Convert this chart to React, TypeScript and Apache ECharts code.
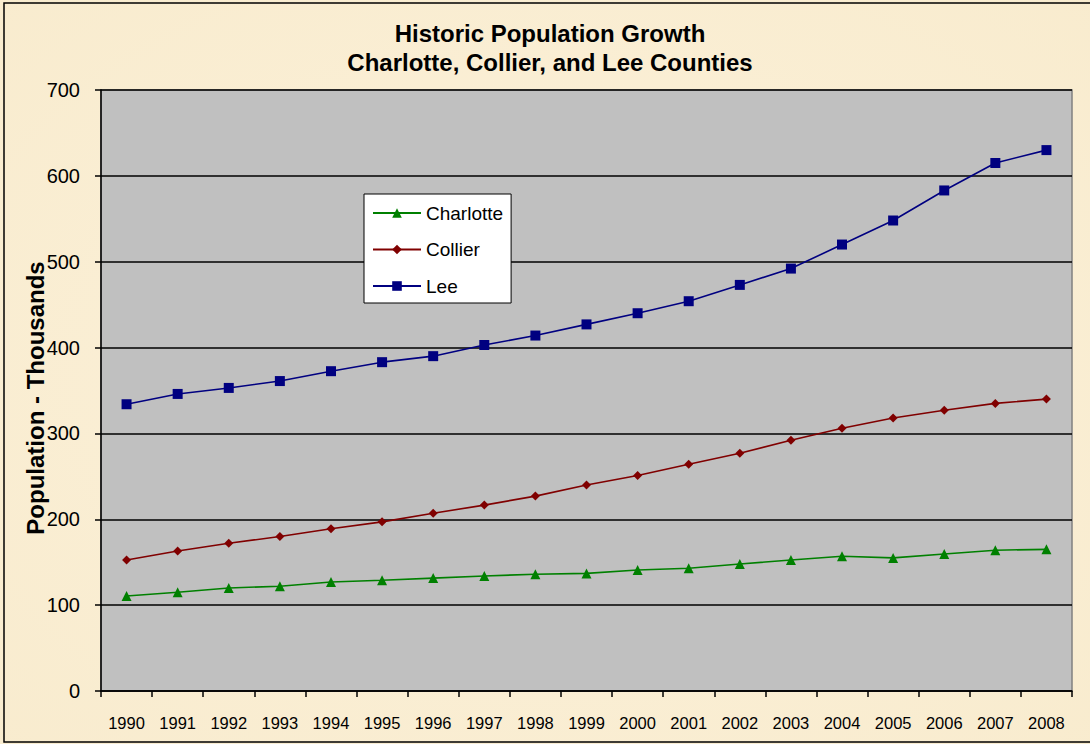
import React, { useEffect, useRef } from "react";
import * as echarts from "echarts";

const years = ["1990","1991","1992","1993","1994","1995","1996","1997","1998","1999","2000","2001","2002","2003","2004","2005","2006","2007","2008"];
const charlotte = [110.6,115,120,122,127,129,131.5,134,136,137,141,143,148,152.5,157,155,159.5,164,165];
const collier = [152.5,163,172,180,189,197,207,216.5,227,240,251,264,277,292,306,318,327,335,340];
const lee = [334,346,353,361,372.5,383,390,403,414,427,440,454,473,492,520,548,583,615,630];

const titleLines = ["Historic Population Growth", "Charlotte, Collier, and Lee Counties"];
const yAxisName = "Population - Thousands";

export default function App() {
  const ref = useRef<HTMLDivElement>(null);
  useEffect(() => {
    document.body.style.margin = "0";
    const chart = echarts.init(ref.current!, null, { renderer: "svg" });
    const font = "'Liberation Sans', Arial, sans-serif";
    const mk = (name: string, data: number[], color: string, symbol: string, size: number) => ({
      name,
      type: "line",
      data,
      symbol,
      symbolSize: size,
      showSymbol: true,
      lineStyle: { color, width: 1.6 },
      itemStyle: { color },
      z: 3,
    });
    chart.setOption({
      animation: false,
      backgroundColor: {
        type: "radial",
        x: 0.5, y: 0.5, r: 0.8,
        colorStops: [
          { offset: 0, color: "#FCF1DA" },
          { offset: 1, color: "#F8EBCD" },
        ],
      },
      textStyle: { fontFamily: font },
      title: {
        text: titleLines.join("\n"),
        left: 545,
        textAlign: "center",
        top: 14,
        textStyle: { fontSize: 24, fontWeight: "bold", color: "#000", lineHeight: 29, fontFamily: font },
      },
      graphic: [
        {
          type: "rect",
          shape: { x: 4, y: 3, width: 1100, height: 739 },
          style: { fill: "none", stroke: "#000", lineWidth: 1.5 },
          z: 100,
          silent: true,
        },
        {
          type: "text",
          x: 35,
          y: 398,
          rotation: Math.PI / 2,
          style: {
            text: yAxisName,
            align: "center",
            verticalAlign: "middle",
            fontSize: 24,
            fontWeight: "bold",
            fontFamily: font,
            fill: "#000",
          },
          z: 50,
          silent: true,
        },
      ],
      legend: {
        orient: "vertical",
        left: 364,
        top: 194,
        backgroundColor: "#fff",
        borderColor: "#000",
        borderWidth: 1,
        padding: [9, 8, 7, 8],
        itemGap: 16.5,
        itemWidth: 48,
        itemHeight: 12,
        textStyle: { fontSize: 19, color: "#000", fontFamily: font, lineHeight: 20 },
        data: ["Charlotte", "Collier", "Lee"],
      },
      grid: {
        left: 101,
        right: 18,
        top: 90,
        bottom: 53,
        show: true,
        backgroundColor: "#C0C0C0",
        borderColor: "#808080",
        borderWidth: 1.5,
      },
      xAxis: {
        type: "category",
        data: years,
        boundaryGap: true,
        axisLine: { lineStyle: { color: "#000", width: 1.5 } },
        axisTick: { show: true, inside: false, length: 6, lineStyle: { color: "#000", width: 1.5 } },
        axisLabel: { color: "#000", fontSize: 16.5, margin: 23, fontFamily: font },
        splitLine: { show: false },
      },
      yAxis: {
        type: "value",
        min: 0,
        max: 700,
        interval: 100,
        axisLine: { show: true, lineStyle: { color: "#000", width: 1.5 } },
        axisTick: { show: true, length: 6, lineStyle: { color: "#000", width: 1.5 } },
        axisLabel: { color: "#000", fontSize: 20, margin: 21, fontFamily: font },
        splitLine: { show: true, lineStyle: { color: "#000", width: 1.5 } },
      },
      series: [
        mk("Charlotte", charlotte, "#008000", "triangle", 10),
        mk("Collier", collier, "#800000", "diamond", 9),
        mk("Lee", lee, "#000080", "rect", 10),
      ],
    });
    return () => chart.dispose();
  }, []);
  return <div ref={ref} style={{ width: 1090, height: 744 }} />;
}
